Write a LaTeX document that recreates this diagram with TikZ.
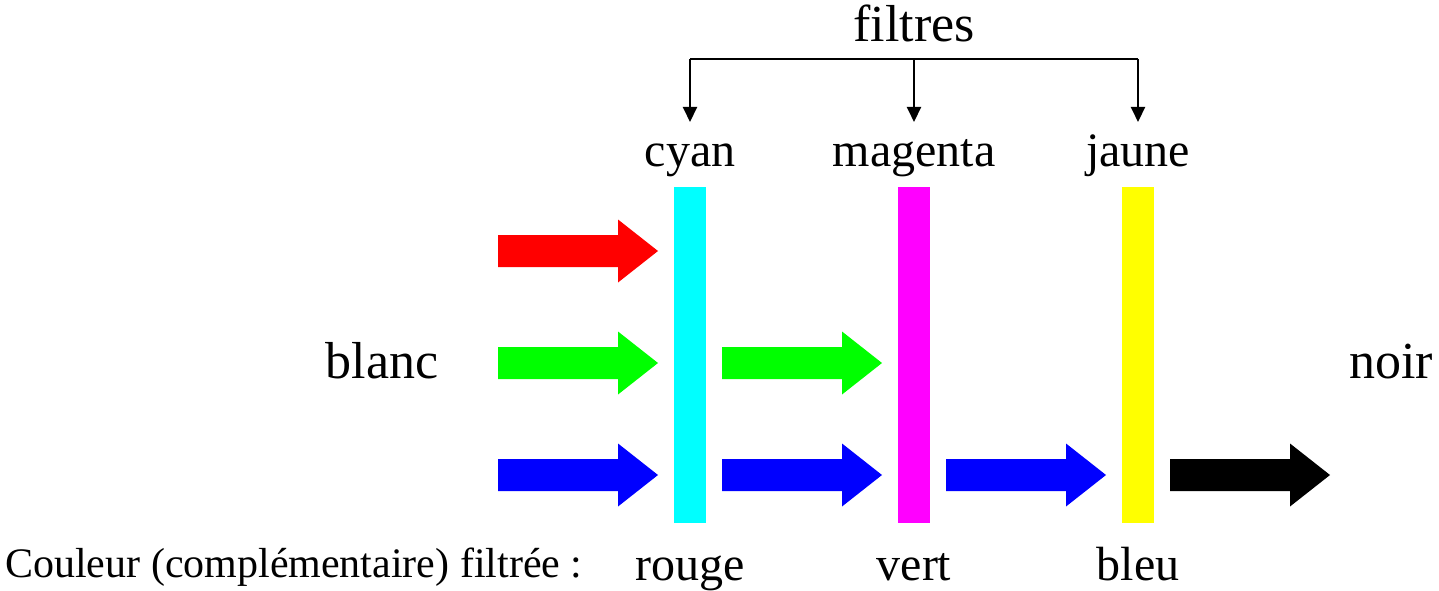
\documentclass[tikz,border=0pt]{standalone}
\usepackage{fontspec}
\setmainfont{Liberation Serif}
\usetikzlibrary{arrows.meta}

\definecolor{fcyan}{RGB}{0,255,255}
\definecolor{fmagenta}{RGB}{255,0,255}
\definecolor{fyellow}{RGB}{255,255,0}
\definecolor{lred}{RGB}{255,0,0}
\definecolor{lgreen}{RGB}{0,255,0}
\definecolor{lblue}{RGB}{0,0,255}

\tikzset{
  bar/.style={rectangle, draw=none, minimum width=32bp, minimum height=336bp, inner sep=0pt},
  big/.style={font=\fontsize{52bp}{60bp}\selectfont, inner sep=0pt, anchor=base},
  lab/.style={font=\fontsize{48bp}{56bp}\selectfont, inner sep=0pt, anchor=base},
  small/.style={font=\fontsize{42bp}{50bp}\selectfont, inner sep=0pt, anchor=base},
  bracket/.style={line width=2bp},
  drop/.style={line width=2bp, -{Triangle[width=14bp,length=15bp]}},
  beam/.pic={\fill (0,-16) -- (120,-16) -- (120,-31.5) -- (160,0) -- (120,31.5) -- (120,16) -- (0,16) -- cycle;}
}

\begin{document}
\begin{tikzpicture}[x=1bp, y=-1bp]
  \useasboundingbox (0,0) rectangle (1439,591);

  % filters
  \node[bar, fill=fcyan]    (fc) at (690,355)  {};
  \node[bar, fill=fmagenta] (fm) at (914,355)  {};
  \node[bar, fill=fyellow]  (fy) at (1138,355) {};

  % filter names
  \node[lab] (ncyan) at (690,167)  {cyan};
  \node[lab] (nmag)  at (914,167)  {magenta};
  \node[lab] (njau)  at (1138,167) {jaune};

  % common label and bracket
  \node[big] (filtres) at (914,42) {filtres};
  \coordinate (bl) at (690,59);
  \coordinate (bm) at (914,59);
  \coordinate (br) at (1138,59);
  \coordinate (tl) at (690,122);
  \coordinate (tm) at (914,122);
  \coordinate (tr) at (1138,122);
  \draw[bracket] (bl) -- (br);
  \draw[drop] (bl) -- (tl);
  \draw[drop] (bm) -- (tm);
  \draw[drop] (br) -- (tr);

  % incoming and outgoing light
  \node[big] (blanc) at (382,378)  {blanc};
  \node[big] (noir)  at (1391,378) {noir};

  % light beams
  \pic[lred]   at (498,251)  {beam};
  \pic[lgreen] at (498,363)  {beam};
  \pic[lblue]  at (498,475)  {beam};
  \pic[lgreen] at (722,363)  {beam};
  \pic[lblue]  at (722,475)  {beam};
  \pic[lblue]  at (946,475)  {beam};
  \pic[black]  at (1170,475) {beam};

  % absorbed colours
  \node[small, anchor=base west] (caption) at (5,577) {Couleur (complémentaire) filtrée :};
  \node[lab] (rouge) at (690,580)  {rouge};
  \node[lab] (vert)  at (914,580)  {vert};
  \node[lab] (bleu)  at (1138,580) {bleu};
\end{tikzpicture}
\end{document}
